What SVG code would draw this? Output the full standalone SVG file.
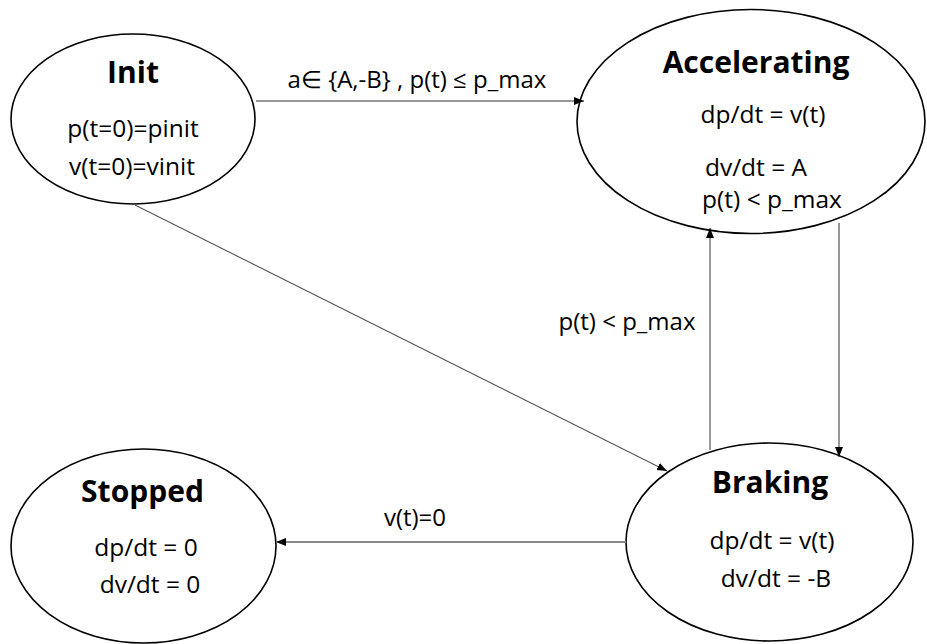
<svg xmlns="http://www.w3.org/2000/svg" width="927" height="644" viewBox="0 0 927 644">
  <style>
    .state { fill: #fff; stroke: #000; stroke-width: 1.6; }
    .title { font-family: "Open Sans", "Liberation Sans", sans-serif; font-weight: bold; font-size: 30px; fill: #000; text-anchor: middle; }
    .body { font-family: "Open Sans", "Liberation Sans", sans-serif; font-size: 24.5px; fill: #000; text-anchor: middle; }
    .edge { fill: none; stroke: #333; stroke-width: 1; }
    .edge-grey { fill: none; stroke: #888; stroke-width: 2; }
    .label { font-family: "Open Sans", "Liberation Sans", sans-serif; font-size: 24px; fill: #000; text-anchor: middle; }
  </style>
  <defs>
    <marker id="arrow" viewBox="0 0 10 10" refX="10" refY="5" markerWidth="10" markerHeight="10" markerUnits="userSpaceOnUse" orient="auto">
      <path d="M0,1 L10,5 L0,9 Z" fill="#000"/>
    </marker>
  </defs>

  <rect width="927" height="644" fill="#fff"/>

  <g id="init">
    <ellipse class="state" cx="133" cy="119" rx="122" ry="85"/>
    <text class="title" x="133" y="83">Init</text>
    <text class="body" x="133" y="137">p(t=0)=pinit</text>
    <text class="body" x="132" y="175">v(t=0)=vinit</text>
  </g>

  <g id="accelerating">
    <ellipse class="state" cx="751" cy="121.5" rx="174" ry="112"/>
    <text class="title" x="756" y="73">Accelerating</text>
    <text class="body" x="763" y="123">dp/dt = v(t)</text>
    <text class="body" x="756" y="176">dv/dt = A</text>
    <text class="body" x="772" y="208">p(t) &lt; p_max</text>
  </g>

  <g id="braking">
    <ellipse class="state" cx="769.5" cy="542" rx="143.5" ry="99"/>
    <text class="title" x="770" y="493">Braking</text>
    <text class="body" x="772" y="549">dp/dt = v(t)</text>
    <text class="body" x="776" y="587">dv/dt = -B</text>
  </g>

  <g id="stopped">
    <ellipse class="state" cx="143.5" cy="546" rx="132.5" ry="97"/>
    <text class="title" x="142.5" y="502">Stopped</text>
    <text class="body" x="146" y="556">dp/dt = 0</text>
    <text class="body" x="150" y="593">dv/dt = 0</text>
  </g>

  <!-- transitions, drawn over the state outlines -->
  <g id="connectors">
    <line class="edge" x1="256" y1="101" x2="584" y2="101" marker-end="url(#arrow)"/>
    <text class="label" x="417" y="88">a∈ {A,-B} , p(t) ≤ p_max</text>

    <line class="edge" x1="135" y1="205" x2="667" y2="471" marker-end="url(#arrow)"/>

    <line class="edge" x1="710" y1="450" x2="710" y2="228" marker-end="url(#arrow)"/>
    <text class="label" x="627" y="330">p(t) &lt; p_max</text>

    <line class="edge" x1="839" y1="223" x2="839" y2="457" marker-end="url(#arrow)"/>

    <line class="edge-grey" x1="626" y1="542" x2="276" y2="542" marker-end="url(#arrow)"/>
    <text class="label" x="415" y="526">v(t)=0</text>
  </g>
</svg>
